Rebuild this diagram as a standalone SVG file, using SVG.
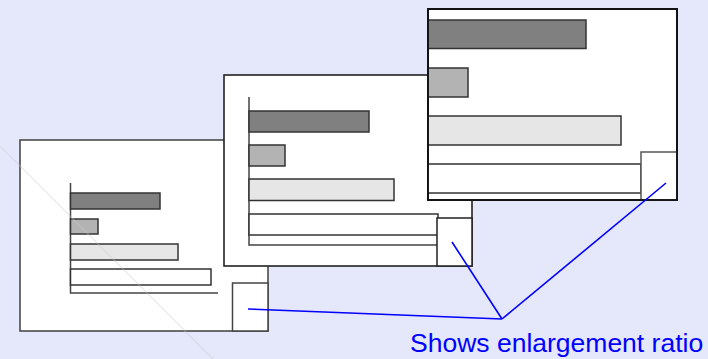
<svg xmlns="http://www.w3.org/2000/svg" width="708" height="359" viewBox="0 0 708 359">
<style>
.win{fill:#fff;}
.bar{stroke:#333;stroke-width:1.5;}
.dk{fill:#808080;}
.md{fill:#b3b3b3;}
.lt{fill:#e6e6e6;}
.wh{fill:#fff;}
.ax{stroke:#444;stroke-width:1.5;fill:none;}
.conn{stroke:#0000ff;stroke-width:1.6;fill:none;}
.lbl{font-family:"Liberation Sans",Arial,sans-serif;font-size:26.5px;fill:#0000ff;}
</style>
<rect x="0" y="0" width="708" height="359" fill="#e5e7fa"/>
<g id="window1">
<rect class="win" x="20" y="140" width="248" height="191" stroke="#4a4a4a" stroke-width="1.6"/>
<polyline class="ax" points="70.5,183 70.5,293 218,293"/>
<rect class="bar dk" x="70.5" y="193" width="89.5" height="16"/>
<rect class="bar md" x="70.5" y="219" width="27.5" height="15"/>
<rect class="bar lt" x="70.5" y="244" width="107.5" height="16"/>
<rect class="bar wh" x="70.5" y="269" width="140.5" height="16"/>
<rect x="232.5" y="283" width="35.5" height="48" fill="#fff" stroke="#444" stroke-width="1.5"/>
<line x1="0" y1="146" x2="213" y2="359" stroke="#c8c8cc" stroke-opacity="0.35" stroke-width="1.5"/>
</g>
<g id="window2">
<rect class="win" x="224" y="75" width="248" height="191" stroke="#222" stroke-width="1.6"/>
<polyline class="ax" points="249,97 249,245 437,245"/>
<rect class="bar dk" x="249" y="111" width="120" height="21"/>
<rect class="bar md" x="249" y="145" width="36" height="21"/>
<rect class="bar lt" x="249" y="179" width="145" height="21.5"/>
<rect class="bar wh" x="249" y="214" width="189" height="21"/>
<rect x="437" y="218" width="35" height="48" fill="#fff" stroke="#222" stroke-width="1.5"/>
</g>
<g id="window3">
<rect class="win" x="428" y="9" width="249" height="191" stroke="#111" stroke-width="1.8"/>
<rect class="bar dk" x="428" y="20" width="158" height="28.5"/>
<rect class="bar md" x="428" y="68" width="40" height="29"/>
<rect class="bar lt" x="428" y="116" width="193" height="29"/>
<rect class="bar wh" x="428" y="164" width="213" height="29"/>
<rect x="641" y="152" width="36" height="48" fill="#fff" stroke="#555" stroke-width="1.5"/>
<rect x="428" y="9" width="249" height="191" fill="none" stroke="#111" stroke-width="1.8"/>
</g>
<g id="connectors">
<line class="conn" x1="248" y1="309" x2="502" y2="319"/>
<line class="conn" x1="452" y1="242" x2="502" y2="319"/>
<line class="conn" x1="666" y1="183" x2="502" y2="319"/>
</g>
<g id="label">
<text class="lbl" x="410" y="352">Shows enlargement ratio</text>
</g>
</svg>
